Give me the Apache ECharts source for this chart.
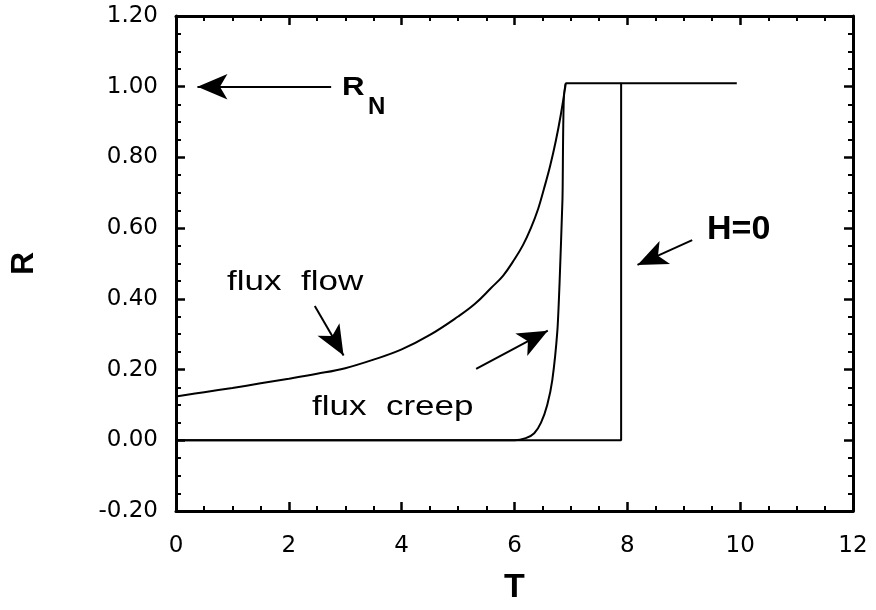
<!DOCTYPE html>
<html>
<head>
<meta charset="utf-8">
<script src="https://cdn.jsdelivr.net/npm/echarts@6/dist/echarts.min.js"></script>
<style>
  html, body { margin: 0; padding: 0; background: #fff; }
  #chart { width: 876px; height: 610px; }
</style>
</head>
<body>
<div id="chart"></div>
<script>
// 数据 (T, R)
var fluxFlow = [
  [0, 0.124], [0.5, 0.136], [1, 0.148], [1.5, 0.161], [2, 0.174], [2.5, 0.188],
  [3, 0.204], [3.5, 0.228], [4, 0.257], [4.5, 0.298], [5, 0.35], [5.3, 0.386],
  [5.58, 0.43], [5.8, 0.466], [6, 0.512], [6.15, 0.552], [6.29, 0.6],
  [6.42, 0.655], [6.52, 0.71], [6.63, 0.775], [6.73, 0.845], [6.82, 0.92],
  [6.91, 1.01]
];
var fluxCreep = [
  [0, 0], [6.0, 0], [6.2, 0.006], [6.35, 0.02], [6.47, 0.05], [6.58, 0.1],
  [6.67, 0.17], [6.76, 0.31], [6.8, 0.45], [6.85, 0.68], [6.91, 1.01], [7.89, 1.01]
];
var hZero = [[0, 0], [7.89, 0], [7.89, 1.01], [9.94, 1.01]];

// 箭头 [起点, 终点]
var arrowRN = [[2.75, 1.0], [0.38, 1.0]];
var arrowFlow = [[2.46, 0.38], [2.97, 0.24]];
var arrowCreep = [[5.32, 0.202], [6.59, 0.31]];
var arrowH = [[9.15, 0.566], [8.18, 0.496]];

var font = "Liberation Sans";
var tickFont = "DejaVu Sans";

function frameAxis(show) {
  return {
    axisLine: { show: true, onZero: false, lineStyle: { color: "#000", width: 3 } },
    axisTick: { show: true, inside: true, length: 9, lineStyle: { color: "#000", width: 2.5 } },
    minorTick: { show: true, splitNumber: 4, length: 5, lineStyle: { color: "#000", width: 2 } },
    splitLine: { show: false },
    axisLabel: { show: show }
  };
}

function arrow(pair) {
  return [
    { coord: pair[0], symbol: "none" },
    { coord: pair[1], symbol: "arrow", symbolSize: [19, 30] }
  ];
}

var chart = echarts.init(document.getElementById("chart"));

var xBottom = Object.assign(frameAxis(true), {
  type: "value", min: 0, max: 12, interval: 2, position: "bottom",
  name: "T", nameLocation: "middle", nameGap: 60,
  nameTextStyle: { fontFamily: font, fontWeight: "bold", fontSize: 34, color: "#000" }
});
xBottom.axisLabel = {
  show: true, margin: 24, color: "#000", fontFamily: tickFont, fontSize: 23,
  formatter: function (v) { return String(v); }
};
var xTop = Object.assign(frameAxis(false), {
  type: "value", min: 0, max: 12, interval: 2, position: "top"
});

var yLeft = Object.assign(frameAxis(true), {
  type: "value", min: -0.2, max: 1.2, interval: 0.2, position: "left",
  name: "R", nameLocation: "middle", nameGap: 136, nameRotate: 90,
  nameTextStyle: { fontFamily: font, fontWeight: "bold", fontSize: 32, color: "#000" }
});
yLeft.axisLabel = {
  show: true, margin: 18, color: "#000", fontFamily: tickFont, fontSize: 23,
  formatter: function (v) { return (Math.abs(v) < 1e-9 ? 0 : v).toFixed(2); }
};
var yRight = Object.assign(frameAxis(false), {
  type: "value", min: -0.2, max: 1.2, interval: 0.2, position: "right"
});

var lineStyle = { color: "#000", width: 2 };

function label(text, x, y, size, bold, sx) {
  return {
    type: "text", x: x, y: y, scaleX: sx || 1,
    style: {
      text: text, fill: "#000", verticalAlign: "top",
      font: (bold ? "bold " : "") + size + "px " + font
    }
  };
}

chart.setOption({
  animation: false,
  backgroundColor: "#fff",
  grid: { left: 174, right: 23, top: 16, bottom: 94 },
  xAxis: [xBottom, xTop],
  yAxis: [yLeft, yRight],
  series: [
    {
      name: "flux flow", type: "line", data: fluxFlow, smooth: 0.4,
      showSymbol: false, lineStyle: lineStyle
    },
    {
      name: "flux creep", type: "line", data: fluxCreep, smooth: 0.2,
      showSymbol: false, lineStyle: lineStyle
    },
    {
      name: "H=0", type: "line", data: hZero,
      showSymbol: false, lineStyle: lineStyle,
      markLine: {
        silent: true,
        lineStyle: { color: "#000", width: 2, type: "solid" },
        label: { show: false },
        data: [arrow(arrowRN), arrow(arrowFlow), arrow(arrowCreep), arrow(arrowH)]
      }
    }
  ],
  graphic: [
    label("R", 342, 76, 25, true, 1.25),
    label("N", 368, 95, 24, true),
    label("flux  flow", 227, 268, 28, false, 1.25),
    label("flux  creep", 312, 393, 28, false, 1.25),
    label("H=0", 707, 213, 34, true)
  ]
});
</script>
</body>
</html>
